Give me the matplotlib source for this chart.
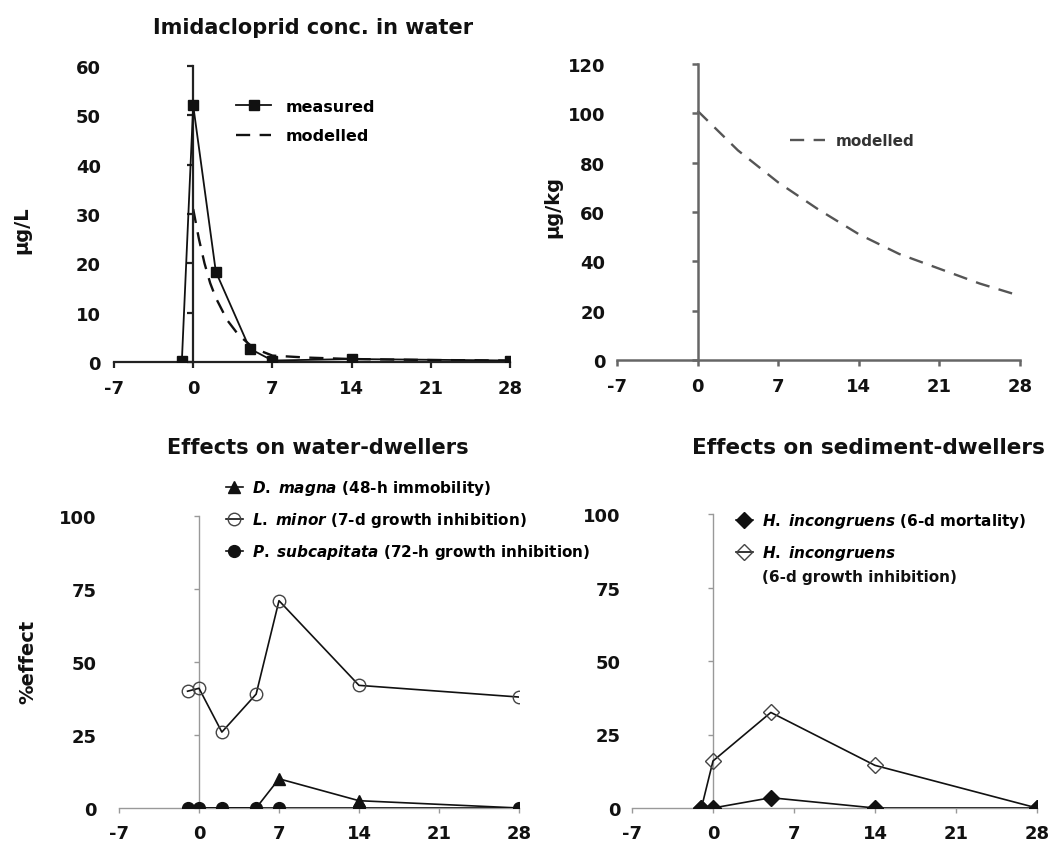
"""
Imidacloprid exposure in water/sediment and the observed effects on
water- and sediment-dwelling test species over 28 days.
"""
import matplotlib
matplotlib.use("Agg")
import matplotlib.pyplot as plt

plt.rcParams["font.family"] = ["DejaVu Sans"]
plt.rcParams["font.weight"] = "bold"
plt.rcParams["axes.unicode_minus"] = False
plt.rcParams["mathtext.fontset"] = "custom"
plt.rcParams["mathtext.it"] = "DejaVu Sans:bold:italic"
plt.rcParams["mathtext.rm"] = "DejaVu Sans:bold"

DAY_TICKS = [-7, 0, 7, 14, 21, 28]

# ── Imidacloprid in water (µg/L) ─────────────────────────────────────
meas_day = [-1, 0, 2, 5, 7, 14, 28]
meas_conc = [0.3, 52, 18.3, 2.7, 0.3, 0.6, 0.3]
model_day = [0, 0.5, 1, 1.5, 2, 3, 4, 5, 6, 7, 10, 14, 21, 28]
model_conc = [31, 25, 20, 16, 13, 8.5, 5.5, 3.5, 2.2, 1.3, 0.9, 0.6, 0.4, 0.3]

# ── Imidacloprid in sediment (µg/kg), modelled ───────────────────────
sed_day = [0, 3.5, 7, 10.5, 14, 17.5, 21, 24.5, 28]
sed_conc = [101, 85, 72, 61, 51, 43, 37, 31, 26]

# ── Effects on water-dwellers (%) ────────────────────────────────────
water_day = [-1, 0, 2, 5, 7, 14, 28]
dmagna = [0, 0, 0, 0, 10, 2.5, 0]
lminor = [40, 41, 26, 39, 71, 42, 38]
psub = [0, 0, 0, 0, 0, 0, 0]

# ── Effects on sediment-dwellers (%) ─────────────────────────────────
sedeff_day = [-1, 0, 5, 14, 28]
hinc_mort = [0, 0, 3.5, 0, 0]
hinc_growth = [0, 16, 32.5, 14.5, 0]

W, H = 1050, 845
fig = plt.figure(figsize=(W / 100, H / 100), dpi=100)


def px_axes(x0, x1, y_top, y_bot):
    """Axes placed by pixel edges (origin top-left)."""
    return fig.add_axes([x0 / W, 1 - y_bot / H, (x1 - x0) / W, (y_bot - y_top) / H])


def style_axis(ax, ymax, yticks, spine_color, lw, ypad, xpad, tick_len):
    ax.set_xlim(-7, 28)
    ax.set_ylim(0, ymax)
    ax.set_xticks(DAY_TICKS)
    ax.set_yticks(yticks)
    for side in ("top", "right"):
        ax.spines[side].set_visible(False)
    ax.spines["left"].set_position(("data", 0))
    for side in ("left", "bottom"):
        ax.spines[side].set_color(spine_color)
        ax.spines[side].set_linewidth(lw)
    ax.tick_params(axis="both", direction="out", color=spine_color, width=lw,
                   length=tick_len, labelsize=13, labelcolor="#111")
    ax.tick_params(axis="y", pad=ypad)
    ax.tick_params(axis="x", pad=xpad)
    ax.set_facecolor("none")


def species(name):
    # italic species name for legend labels
    return r"$\it{" + name.replace(" ", r"\;") + "}$"


# ── Top left: water concentration ────────────────────────────────────
ax1 = px_axes(114, 510, 67, 363)
style_axis(ax1, 60, [0, 10, 20, 30, 40, 50, 60], "#222", 1.6, 62, 8, 4.5)
ax1.plot(meas_day, meas_conc, color="#111", lw=1.3, marker="s", ms=7,
         label="measured", zorder=3)
ax1.plot(model_day, model_conc, color="#111", lw=1.7, ls=(0, (6, 4)),
         label="modelled", zorder=2)
ax1.legend(loc="upper left", bbox_to_anchor=(236 / W, 1 - 100 / H),
           bbox_transform=fig.transFigure, frameon=False, fontsize=11.5,
           handlelength=2.2, handletextpad=0.9, labelspacing=0.9,
           borderpad=0, borderaxespad=0)

# ── Top right: sediment concentration ────────────────────────────────
ax2 = px_axes(617, 1020, 65, 361)
style_axis(ax2, 120, [0, 20, 40, 60, 80, 100, 120], "#666", 1.8, 62, 8, 4.5)
ax2.plot(sed_day, sed_conc, color="#555", lw=1.7, ls=(0, (6, 4)),
         label="modelled")
ax2.legend(loc="upper left", bbox_to_anchor=(790 / W, 1 - 134 / H),
           bbox_transform=fig.transFigure, frameon=False, fontsize=11,
           handlelength=2.3, handletextpad=0.7, borderpad=0,
           borderaxespad=0, labelcolor="#333")

# ── Bottom left: effects on water-dwellers ───────────────────────────
ax3 = px_axes(119, 519, 517, 809)
style_axis(ax3, 100, [0, 25, 50, 75, 100], "#999", 1.0, 70, 8, 3.5)
ax3.plot(water_day, lminor, color="#111", lw=1.2, marker="o", ms=9,
         mfc="none", mec="#444", mew=1.0,
         label=species("L. minor") + " (7-d growth inhibition)", zorder=3)
ax3.plot(water_day, dmagna, color="#111", lw=1.2, marker="^", ms=8,
         label=species("D. magna") + " (48-h immobility)", zorder=3)
ax3.plot(water_day, psub, color="#111", lw=1.2, marker="o", ms=8.5,
         label=species("P. subcapitata") + " (72-h growth inhibition)",
         zorder=4)
handles, labels = ax3.get_legend_handles_labels()
order = [1, 0, 2]
ax3.legend([handles[i] for i in order], [labels[i] for i in order],
           loc="upper left", bbox_to_anchor=(226 / W, 1 - 479 / H),
           bbox_transform=fig.transFigure, frameon=False, fontsize=11,
           handlelength=1.1, handletextpad=0.6, labelspacing=0.85,
           borderpad=0, borderaxespad=0)

# ── Bottom right: effects on sediment-dwellers ───────────────────────
ax4 = px_axes(632, 1037, 515, 809)
style_axis(ax4, 100, [0, 25, 50, 75, 100], "#999", 1.0, 63, 8, 3.5)
ax4.plot(sedeff_day, hinc_growth, color="#111", lw=1.2, marker="D", ms=8,
         mfc="none", mec="#444", mew=1.0,
         label=species("H. incongruens"), zorder=3)
ax4.plot(sedeff_day, hinc_mort, color="#111", lw=1.2, marker="D", ms=8,
         label=species("H. incongruens") + " (6-d mortality)", zorder=4)
handles, labels = ax4.get_legend_handles_labels()
leg4 = ax4.legend([handles[1], handles[0]], [labels[1], labels[0]],
                  loc="upper left", bbox_to_anchor=(736 / W, 1 - 512 / H),
                  bbox_transform=fig.transFigure, frameon=False, fontsize=11,
                  handlelength=1.1, handletextpad=0.6, labelspacing=0.85,
                  borderpad=0, borderaxespad=0)
# second line of the growth-inhibition entry, hung under its legend text
ax4.annotate("(6-d growth inhibition)", xy=(0, 0), xycoords=leg4.get_texts()[1],
             xytext=(0, -5), textcoords="offset points", ha="left", va="top",
             fontsize=11, color="#111", zorder=10, annotation_clip=False)

# ── Titles and axis labels ───────────────────────────────────────────
fig.text(313 / W, 1 - 28 / H, "Imidacloprid conc. in water", ha="center",
         va="center", fontsize=15, color="#111")
fig.text(318 / W, 1 - 448 / H, "Effects on water-dwellers", ha="center",
         va="center", fontsize=15, color="#111")
fig.text(868 / W, 1 - 448 / H, "Effects on sediment-dwellers", ha="center",
         va="center", fontsize=15.5, color="#111")
fig.text(22 / W, 1 - 230 / H, "µg/L", rotation=90, ha="center", va="center",
         fontsize=14, color="#111")
fig.text(553 / W, 1 - 207 / H, "µg/kg", rotation=90, ha="center", va="center",
         fontsize=14, color="#111")
fig.text(28 / W, 1 - 662 / H, "%effect", rotation=90, ha="center", va="center",
         fontsize=14, color="#111")

fig.savefig("out.png", dpi=100)
